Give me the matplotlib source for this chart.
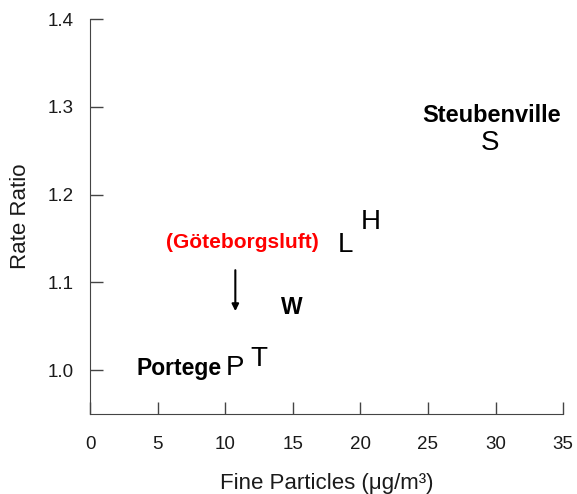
import matplotlib
matplotlib.use('Agg')
import matplotlib.pyplot as plt

plt.rcParams['font.family'] = ['Liberation Sans', 'DejaVu Sans']

# city letters: label, fine particles, rate ratio, bold?
cities = ['P', 'T', 'W', 'L', 'H', 'S']
fine_particles = [10.75, 12.5, 14.9, 18.9, 20.8, 29.6]
rate_ratio = [1.002, 1.013, 1.071, 1.143, 1.169, 1.259]
bold = [False, False, True, False, False, False]

xticks = [0, 5, 10, 15, 20, 25, 30, 35]
yticks = [1.0, 1.1, 1.2, 1.3, 1.4]

fig = plt.figure(figsize=(5.77, 4.94), dpi=100)
ax = fig.add_axes([0.156, 0.162, 0.82, 0.7995])
ax.set_xlim(0, 35)
ax.set_ylim(0.95, 1.4)

for c, x, y, b in zip(cities, fine_particles, rate_ratio, bold):
    if b:
        ax.text(x, y, c, fontsize=16.5, fontweight='bold', ha='center', va='center')
    else:
        ax.text(x, y, c, fontsize=20, ha='center', va='center')

ax.text(9.75, 1.002, 'Portege', fontsize=16.5, fontweight='bold', ha='right', va='center')
ax.text(29.7, 1.29, 'Steubenville', fontsize=17, fontweight='bold', ha='center', va='center')
ax.text(11.3, 1.145, '(Göteborgsluft)', fontsize=15, fontweight='bold', color='red',
        ha='center', va='center')
ax.annotate('', xy=(10.75, 1.064), xytext=(10.75, 1.117),
            arrowprops=dict(arrowstyle='-|>', color='black', lw=1.5, mutation_scale=10))

ax.spines['top'].set_visible(False)
ax.spines['right'].set_visible(False)
ax.spines['left'].set_bounds(0.95, 1.4)
ax.spines['left'].set_color('#444444')
ax.spines['bottom'].set_color('#444444')
ax.set_xticks(xticks)
ax.set_yticks(yticks)
ax.set_yticklabels(['%.1f' % v for v in yticks])
ax.tick_params(direction='in', length=9, width=1, color='#444444', labelsize=13.5,
               labelcolor='#1a1a1a')
ax.tick_params(axis='x', pad=16)
ax.tick_params(axis='y', pad=12)

ax.set_xlabel('Fine Particles (μg/m³)', fontsize=16, labelpad=14, color='#1a1a1a')
ax.set_ylabel('Rate Ratio', fontsize=16, labelpad=12, color='#1a1a1a')

fig.savefig('out.png', dpi=100)
